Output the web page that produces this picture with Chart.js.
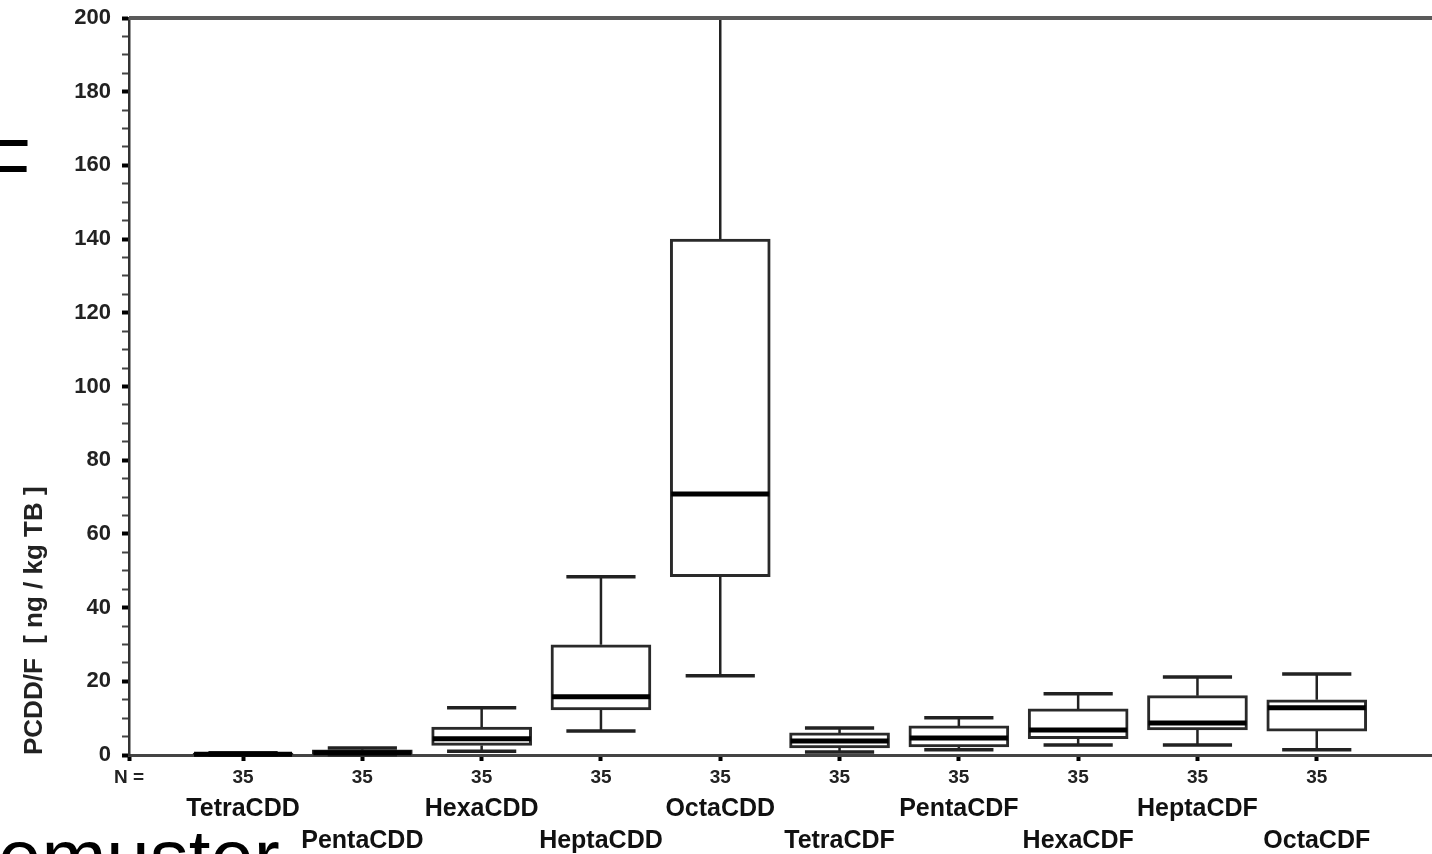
<!DOCTYPE html>
<html>
<head>
<meta charset="utf-8">
<script src="https://cdn.jsdelivr.net/npm/chart.js@4.4.1/dist/chart.umd.min.js"></script>
<style>
  html, body { margin: 0; padding: 0; background: #fff; }
  #wrap { position: relative; width: 1432px; height: 854px; overflow: hidden; }
  #box { position: absolute; left: 0; top: 0; width: 1432px; height: 854px; }
  .slide { position: absolute; font-family: "Liberation Sans", Arial, sans-serif; font-size: 78px; line-height: 78px; color: #000; white-space: nowrap; }
</style>
</head>
<body>
<div id="wrap">
  <div class="slide" style="left:-17px; top:128px;">F</div>
  <div class="slide" style="left:-2px; top:818px;">emuster</div>
  <div id="box"><canvas id="myChart"></canvas></div>
</div>
<script>
const labels = ["TetraCDD", "PentaCDD", "HexaCDD", "HeptaCDD", "OctaCDD",
                "TetraCDF", "PentaCDF", "HexaCDF", "HeptaCDF", "OctaCDF"]
const positions = [1, 2, 3, 4, 5, 6, 7, 8, 9, 10]
const nCounts = [35, 35, 35, 35, 35, 35, 35, 35, 35, 35]

// box plot values, ng / kg TB
const mins    = [0.0, 0.1, 1.0,  6.5,  21.5, 0.8, 1.4, 2.7,  2.7,  1.4]
const q1      = [0.05, 0.2, 2.6, 12.2,  48.4, 1.9, 2.2, 4.4,  6.8,  6.5]
const medians = [0.2, 0.6, 4.4, 15.8,  70.8, 3.8, 4.6, 6.8,  8.7, 12.8]
const q3      = [0.5, 1.4, 7.6, 29.9, 140.0, 6.0, 7.9, 12.5, 16.1, 15.0]
const maxs    = [0.6, 1.9, 12.8, 48.4, 200.0, 7.3, 10.1, 16.6, 21.2, 22.0]

const xMin = 0.044
const xMax = 10.966

Chart.defaults.font.family = '"Liberation Sans", Arial, sans-serif'

const boxData = positions.map((p, i) => ({ x: p, y: [q1[i], q3[i]] }))

// whiskers, caps and medians drawn on top of the floating bars
const boxplotParts = {
  id: 'boxplotParts',
  afterDatasetsDraw(chart) {
    const { ctx, scales: { x, y } } = chart
    const meta = chart.getDatasetMeta(0)
    const step = x.getPixelForValue(2) - x.getPixelForValue(1)
    const capHalf = step * 0.29
    ctx.save()
    positions.forEach((p, i) => {
      const cx = x.getPixelForValue(p)
      const bar = meta.data[i]
      const half = bar.width / 2

      ctx.strokeStyle = '#222'
      ctx.lineWidth = 2.5
      ctx.beginPath()
      ctx.moveTo(cx, y.getPixelForValue(q3[i]))
      ctx.lineTo(cx, y.getPixelForValue(maxs[i]))
      ctx.moveTo(cx, y.getPixelForValue(q1[i]))
      ctx.lineTo(cx, y.getPixelForValue(mins[i]))
      ctx.stroke()

      ctx.lineWidth = 3.5
      ctx.beginPath()
      ctx.moveTo(cx - capHalf, y.getPixelForValue(maxs[i]))
      ctx.lineTo(cx + capHalf, y.getPixelForValue(maxs[i]))
      ctx.moveTo(cx - capHalf, y.getPixelForValue(mins[i]))
      ctx.lineTo(cx + capHalf, y.getPixelForValue(mins[i]))
      ctx.stroke()

      ctx.strokeStyle = '#000'
      ctx.lineWidth = 5
      ctx.beginPath()
      ctx.moveTo(cx - half + 1, y.getPixelForValue(medians[i]))
      ctx.lineTo(cx + half - 1, y.getPixelForValue(medians[i]))
      ctx.stroke()
    })
    ctx.restore()
  },
  afterDraw(chart) {
    const { ctx, chartArea } = chart
    ctx.save()
    ctx.strokeStyle = '#5a5a5a'
    ctx.lineWidth = 4
    ctx.beginPath()
    ctx.moveTo(chartArea.left, chartArea.top)
    ctx.lineTo(chartArea.right, chartArea.top)
    ctx.stroke()
    ctx.restore()
  }
}

const config = {
  type: 'bar',
  data: {
    datasets: [
      {
        label: 'PCDD/F',
        data: boxData,
        backgroundColor: '#fff',
        borderColor: '#2a2a2a',
        borderWidth: 3,
        borderSkipped: false,
        barThickness: 100,
      },
    ],
  },
  options: {
    responsive: true,
    maintainAspectRatio: false,
    animation: false,
    events: [],
    layout: { padding: { top: 18, right: 0, left: 0, bottom: 0 } },
    plugins: {
      legend: { display: false },
      tooltip: { enabled: false },
      title: { display: false },
    },
    scales: {
      x: {
        type: 'linear',
        min: xMin,
        max: xMax,
        offset: false,
        position: 'bottom',
        afterBuildTicks: s => { s.ticks = [{ value: xMin }].concat(positions.map(v => ({ value: v }))) },
        afterFit: s => { s.height = 38 },
        ticks: {
          autoSkip: false,
          maxRotation: 0,
          padding: 5,
          color: '#222',
          font: { size: 19, weight: 'bold' },
          callback: (v, i) => i === 0 ? 'N =' : String(nCounts[i - 1]),
        },
        grid: { offset: false, drawOnChartArea: false, tickLength: 6, tickWidth: 4, tickColor: '#000' },
        border: { color: '#444', width: 3 },
      },
      x2: {
        type: 'linear',
        min: xMin,
        max: xMax,
        offset: false,
        position: 'bottom',
        afterBuildTicks: s => { s.ticks = positions.map(v => ({ value: v })) },
        afterFit: s => { s.height = 61 },
        ticks: {
          autoSkip: false,
          maxRotation: 0,
          padding: 0,
          color: '#111',
          font: { size: 25, weight: 'bold', lineHeight: 1.28 },
          callback: (v, i) => i % 2 === 0 ? labels[i] : ['', labels[i]],
        },
        grid: { display: false, offset: false, drawTicks: false, tickLength: 0 },
        border: { display: false },
      },
      y: {
        min: 0,
        max: 200,
        afterFit: s => {
          s.width = 129
          s.paddingTop = 0
          s.paddingBottom = 0
        },
        ticks: {
          stepSize: 5,
          autoSkip: false,
          padding: 11,
          color: '#222',
          font: { size: 22, weight: 'bold' },
          callback: v => v % 20 === 0 ? v : '',
        },
        grid: {
          drawOnChartArea: false,
          tickLength: 7,
          tickColor: c => c.tick && c.tick.value % 20 === 0 ? '#000' : '#444',
          tickWidth: c => c.tick && c.tick.value % 20 === 0 ? 4 : 2,
        },
        border: { color: '#333', width: 2.5 },
        title: {
          display: true,
          text: 'PCDD/F  [ ng / kg TB ]',
          align: 'start',
          color: '#222',
          font: { size: 26, weight: 'bold' },
          padding: { top: 19 },
        },
      },
    },
  },
  plugins: [boxplotParts],
}

const MyChart = new Chart(
  document.getElementById('myChart'),
  config
)
</script>
</body>
</html>
